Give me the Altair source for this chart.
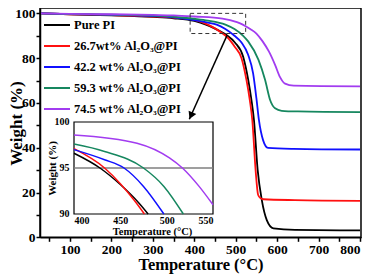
import altair as alt
import pandas as pd

FONT = "Liberation Serif"

series = ["Pure PI", "26.7wt% Al₂O₃@PI", "42.2 wt% Al₂O₃@PI",
          "59.3 wt% Al₂O₃@PI", "74.5 wt% Al₂O₃@PI"]
colors = ["#000000", "#ff1010", "#1010ff", "#16875f", "#a23cf0"]

pure_t = [30, 100, 200, 300, 350, 400, 428, 450, 470, 480, 498, 518, 530, 538, 544, 553, 563, 575, 591, 643, 800]
pure_w = [100, 99.6, 99.1, 98.4, 97.8, 96.6, 95.0, 93.2, 91.2, 90.0, 87.0, 80.6, 70.5, 61.3, 52.4, 30.0, 16.6, 7.7, 4.0, 3.3, 3.1]

a267_t = [30, 100, 200, 300, 350, 400, 433, 450, 465, 476, 498, 514, 526, 534, 540, 548, 554, 560, 567, 643, 800]
a267_w = [100, 99.6, 99.2, 98.6, 98.1, 97.1, 95.0, 93.3, 91.5, 90.0, 85.0, 80.0, 70.2, 61.3, 52.4, 30.0, 19.0, 17.4, 17.0, 16.6, 16.3]

a422_t = [30, 100, 200, 300, 350, 400, 433, 454, 475, 497, 514, 530, 542, 550, 556, 566, 578, 640, 800]
a422_w = [100, 99.7, 99.3, 98.8, 98.2, 97.0, 95.9, 95.0, 93.0, 90.0, 87.0, 81.5, 73.2, 62.0, 52.4, 43.4, 39.9, 39.5, 39.2]

a593_t = [30, 100, 200, 300, 350, 400, 433, 475, 497, 518, 530, 555, 571, 583, 595, 611, 650, 800]
a593_w = [100, 99.7, 99.4, 99.0, 98.5, 97.6, 96.8, 95.0, 93.0, 90.0, 87.5, 79.2, 70.2, 61.3, 57.6, 56.5, 56.2, 55.9]

a745_t = [30, 100, 200, 300, 350, 400, 468, 503, 517, 535, 550, 565, 580, 595, 607, 619, 640, 800]
a745_w = [100, 99.8, 99.6, 99.3, 99.1, 98.6, 97.7, 96.1, 95.0, 93.0, 91.0, 87.5, 83.0, 77.0, 71.5, 68.6, 67.7, 67.4]

temps = [pure_t, a267_t, a422_t, a593_t, a745_t]
weights = [pure_w, a267_w, a422_w, a593_w, a745_w]

main_x = [27.6, 802.4]
main_y = [0, 102.4]
inset_x = [400, 550]
inset_y = [90, 100]
inset_ref = [95]
zoom_box = [390, 524, 91, 100]           # x, x2, y, y2 (data units)
arrow_line = [479, 90.2, 388, 52.7]      # x, y, x2, y2
arrow_head = [392, 54.3]

rows = []
for name, ts, ws in zip(series, temps, weights):
    for t, w in zip(ts, ws):
        rows.append({"series": name, "T": t, "W": w})
df = pd.DataFrame(rows)
inset_df = df[(df["T"] >= inset_x[0]) & (df["T"] <= inset_x[1]) & (df["W"] >= inset_y[0])]

W, H = 321, 229.3
INSET_RANGE_X = [34, 173]
INSET_RANGE_Y = [206, 114]

color = alt.Color(
    "series:N",
    scale=alt.Scale(domain=series, range=colors),
    legend=alt.Legend(
        title=None, orient="none", legendX=3, legendY=3, padding=0,
        symbolType="stroke", symbolSize=676, symbolStrokeWidth=2,
        labelFont=FONT, labelFontSize=12.5, labelFontWeight="bold",
        labelColor="black", labelOffset=3, rowPadding=-5.1,
    ),
)

main_xs = alt.Scale(domain=main_x, nice=False, zero=False)
main_ys = alt.Scale(domain=main_y, nice=False, zero=False)

main_xaxis = alt.Axis(
    values=list(range(50, 801, 50)),
    labelExpr="datum.value % 100 == 0 ? datum.label : ''",
    title="Temperature (°C)", titleFontSize=16.5, titleY=27.5, titleBaseline="middle",
    labelFontSize=13.5, tickSize=4, labelPadding=1, grid=False,
)
main_yaxis = alt.Axis(
    values=list(range(0, 101, 10)),
    labelExpr="datum.value % 20 == 0 ? datum.label : ''",
    title="Weight (%)", titleFontSize=17, titleX=-24, titleY=115, titleBaseline="middle",
    labelFontSize=13.5, tickSize=4, labelPadding=1, grid=False,
)

def mx(field):
    return alt.X(field, type="quantitative", scale=main_xs, axis=main_xaxis)

def my(field):
    return alt.Y(field, type="quantitative", scale=main_ys, axis=main_yaxis)

lines = alt.Chart(df).mark_line(interpolate="monotone", strokeWidth=1.8).encode(
    x=mx("T"), y=my("W"), color=color
)

box_df = pd.DataFrame([{"x": zoom_box[0], "x2": zoom_box[1], "y": zoom_box[2], "y2": zoom_box[3]}])
box = alt.Chart(box_df).mark_rect(fillOpacity=0, stroke="#333333", strokeWidth=1,
                                  strokeDash=[4, 3]).encode(
    x=mx("x"), x2="x2", y=my("y"), y2="y2"
)

arr_df = pd.DataFrame([{"x": arrow_line[0], "y": arrow_line[1], "x2": arrow_line[2], "y2": arrow_line[3]}])
arrow = alt.Chart(arr_df).mark_rule(color="black", strokeWidth=1.5).encode(
    x=mx("x"), y=my("y"), x2="x2", y2="y2"
)
head_df = pd.DataFrame([{"x": arrow_head[0], "y": arrow_head[1]}])
head = alt.Chart(head_df).mark_point(shape="triangle-up", filled=True, size=70,
                                     angle=204, color="black", opacity=1).encode(
    x=mx("x"), y=my("y")
)

main = alt.layer(lines, box, arrow, head)

# ---- inset ----
in_xs = alt.Scale(domain=inset_x, range=INSET_RANGE_X, nice=False, zero=False)
in_ys = alt.Scale(domain=inset_y, range=INSET_RANGE_Y, nice=False, zero=False)
in_xaxis = alt.Axis(
    orient="bottom", offset=INSET_RANGE_Y[0] - H, values=[400, 450, 500, 550],
    ticks=False, domain=False, grid=False, labelFontSize=10, labelPadding=2,
    title="Temperature (°C)", titleFontSize=10.5, titleX=112, titleY=18, titleBaseline="middle",
)
in_yaxis = alt.Axis(
    orient="left", offset=-INSET_RANGE_X[0], values=[90, 95, 100],
    ticks=False, domain=False, grid=False, labelFontSize=10, labelPadding=5,
    title="Weight (%)", titleFontSize=11, titleX=-22, titleBaseline="middle",
)

def ix(field):
    return alt.X(field, type="quantitative", scale=in_xs, axis=in_xaxis)

def iy(field):
    return alt.Y(field, type="quantitative", scale=in_ys, axis=in_yaxis)

frame_df = pd.DataFrame([{"x": inset_x[0], "x2": inset_x[1], "y": inset_y[0], "y2": inset_y[1]}])
frame = alt.Chart(frame_df).mark_rect(fill="white", stroke="black", strokeWidth=1.2).encode(
    x=ix("x"), x2="x2", y=iy("y"), y2="y2"
)
ref_df = pd.DataFrame([{"x": inset_x[0], "x2": inset_x[1], "y": inset_ref[0]}])
ref = alt.Chart(ref_df).mark_rule(color="#7f7f7f", strokeWidth=1.5).encode(
    x=ix("x"), x2="x2", y=iy("y")
)
ilines = alt.Chart(inset_df).mark_line(interpolate="monotone", strokeWidth=1.5).encode(
    x=ix("T"), y=iy("W"), color=color
)
inset = alt.layer(frame, ref, ilines)

chart = alt.layer(main, inset).resolve_scale(
    x="independent", y="independent"
).properties(
    width=W, height=H,
    autosize=alt.AutoSizeParams(type="none"),
    padding={"left": 32, "top": 0, "right": 4, "bottom": 38},
).configure_view(
    stroke="black", strokeWidth=1.5
).configure_axis(
    labelFont=FONT, titleFont=FONT, labelFontWeight="bold", titleFontWeight="bold",
    labelColor="black", titleColor="black", domainColor="black", tickColor="black",
    domainWidth=1.5, tickWidth=1.5, labelOverlap=False,
)

chart.save("out.html", embed_options={"renderer": "svg", "actions": False})
